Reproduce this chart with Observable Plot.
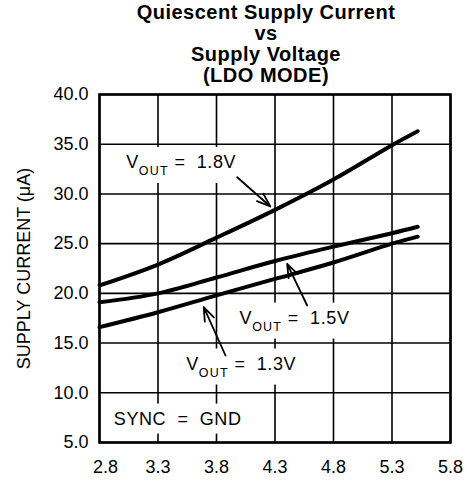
<!DOCTYPE html>
<html><head><meta charset="utf-8">
<script src="https://cdn.jsdelivr.net/npm/d3@7"></script>
<script src="https://cdn.jsdelivr.net/npm/@observablehq/plot@0.6"></script>
<style>
body{margin:0;background:#fff;}
#wrap{position:relative;width:467px;height:481px;}
#title{position:absolute;left:0;top:2px;width:467px;padding-left:65px;box-sizing:border-box;text-align:center;font:bold 20px "Liberation Sans",Arial,sans-serif;letter-spacing:0.5px;line-height:21px;color:#000;z-index:2;}
</style></head><body>
<div id="wrap"><div id="title">Quiescent Supply Current<br>vs<br>Supply Voltage<br>(LDO MODE)</div><div id="chart"></div></div>
<script>
// Data
const supplyVoltage = [2.8, 3.3, 3.8, 4.3, 4.8, 5.3, 5.52];
const currentVout18 = [20.8, 22.9, 25.6, 28.4, 31.45, 34.9, 36.3];
const currentVout15 = [19.1, 20.0, 21.6, 23.25, 24.7, 26.05, 26.7];
const currentVout13 = [16.6, 18.1, 19.8, 21.45, 23.1, 25.0, 25.7];
const seriesNames = ["1.8V", "1.5V", "1.3V"];
const xTicks = [2.8, 3.3, 3.8, 4.3, 4.8, 5.3, 5.8];
const yTicks = [5, 10, 15, 20, 25, 30, 35, 40];
const yLabel = "SUPPLY CURRENT (\u03BCA)";
const labelTexts = ["VOUT = 1.8V", "VOUT = 1.5V", "VOUT = 1.3V", "SYNC = GND"];
const labelVin = [3.028, 3.997, 3.541, 2.922];
const labelCurrent = [33.19, 17.54, 12.92, 7.38];
const arrowFromVin = [3.977, 4.575, 3.877];
const arrowFromCurrent = [31.68, 18.78, 13.75];
const arrowToVin = [4.26, 4.404, 3.691];
const arrowToCurrent = [28.74, 22.97, 18.61];

const seriesValues = [currentVout18, currentVout15, currentVout13];
const rows = seriesNames.flatMap((s, k) => supplyVoltage.map((v, i) => ({vin: v, current: seriesValues[k][i], series: s})));
const labels = labelTexts.map((t, i) => ({text: t, vin: labelVin[i], current: labelCurrent[i]}));
const arrows = arrowFromVin.map((v, i) => ({x1: v, y1: arrowFromCurrent[i], x2: arrowToVin[i], y2: arrowToCurrent[i]}));

const font = '"Liberation Sans", Arial, sans-serif';
const xAxisOpts = {tickSize: 0, tickPadding: 18, tickFormat: d => d.toFixed(1), fontSize: 18, label: null};
const plot = Plot.plot({
  width: 467, height: 481,
  marginTop: 94, marginBottom: 39, marginLeft: 99, marginRight: 17,
  style: {fontFamily: font, fontSize: "18px", color: "#000", background: "#fff"},
  x: {domain: [2.8, 5.8]},
  y: {domain: [5, 40]},
  marks: [
    Plot.gridX(xTicks, {stroke: "#000", strokeOpacity: 1, strokeWidth: 1.6}),
    Plot.gridY(yTicks, {stroke: "#000", strokeOpacity: 1, strokeWidth: 1.6}),
    Plot.axisX(xTicks.slice(0, 1), {...xAxisOpts, dx: 6}),
    Plot.axisX(xTicks.slice(1), xAxisOpts),
    Plot.axisY(yTicks, {tickSize: 0, tickPadding: 11, tickFormat: d => d.toFixed(1), fontSize: 18,
      label: yLabel, labelAnchor: "center", labelArrow: "none", labelOffset: 82}),
    Plot.line(rows, {x: "vin", y: "current", z: "series", curve: "catmull-rom", stroke: "#000", strokeWidth: 4}),
    Plot.text(labels, {x: "vin", y: "current", text: "text", textAnchor: "start", fontSize: 18, fill: "#000"}),
    Plot.arrow(arrows, {x1: "x1", y1: "y1", x2: "x2", y2: "y2", stroke: "#000", strokeWidth: 1.8, headLength: 12, headAngle: 40}),
    Plot.frame({stroke: "#000", strokeWidth: 2.6})
  ]
});
document.getElementById("chart").appendChild(plot);

// subscripts and white label boxes
d3.select(plot).selectAll("text").filter(function() { return labelTexts.includes(this.textContent); }).each(function() {
  const t = d3.select(this);
  const s = this.textContent;
  t.attr("letter-spacing", "0.6");
  if (s.startsWith("VOUT")) {
    const value = s.split("=")[1].trim();
    t.text(null);
    t.append("tspan").text("V");
    t.append("tspan").attr("font-size", 12.5).attr("letter-spacing", "1.2").attr("dy", 7).text("OUT");
    t.append("tspan").attr("dy", -7).style("white-space", "pre").text(" =  " + value);
  } else {
    t.style("white-space", "pre").text(s.replace(" = ", "  =  "));
  }
  const b = this.getBBox();
  const node = this;
  d3.select(this.parentNode).insert("rect", () => node)
    .attr("transform", t.attr("transform"))
    .attr("x", b.x - 6).attr("y", b.y - 5)
    .attr("width", b.width + 12).attr("height", b.height + 10)
    .attr("fill", "#fff");
});
</script>
</body></html>
